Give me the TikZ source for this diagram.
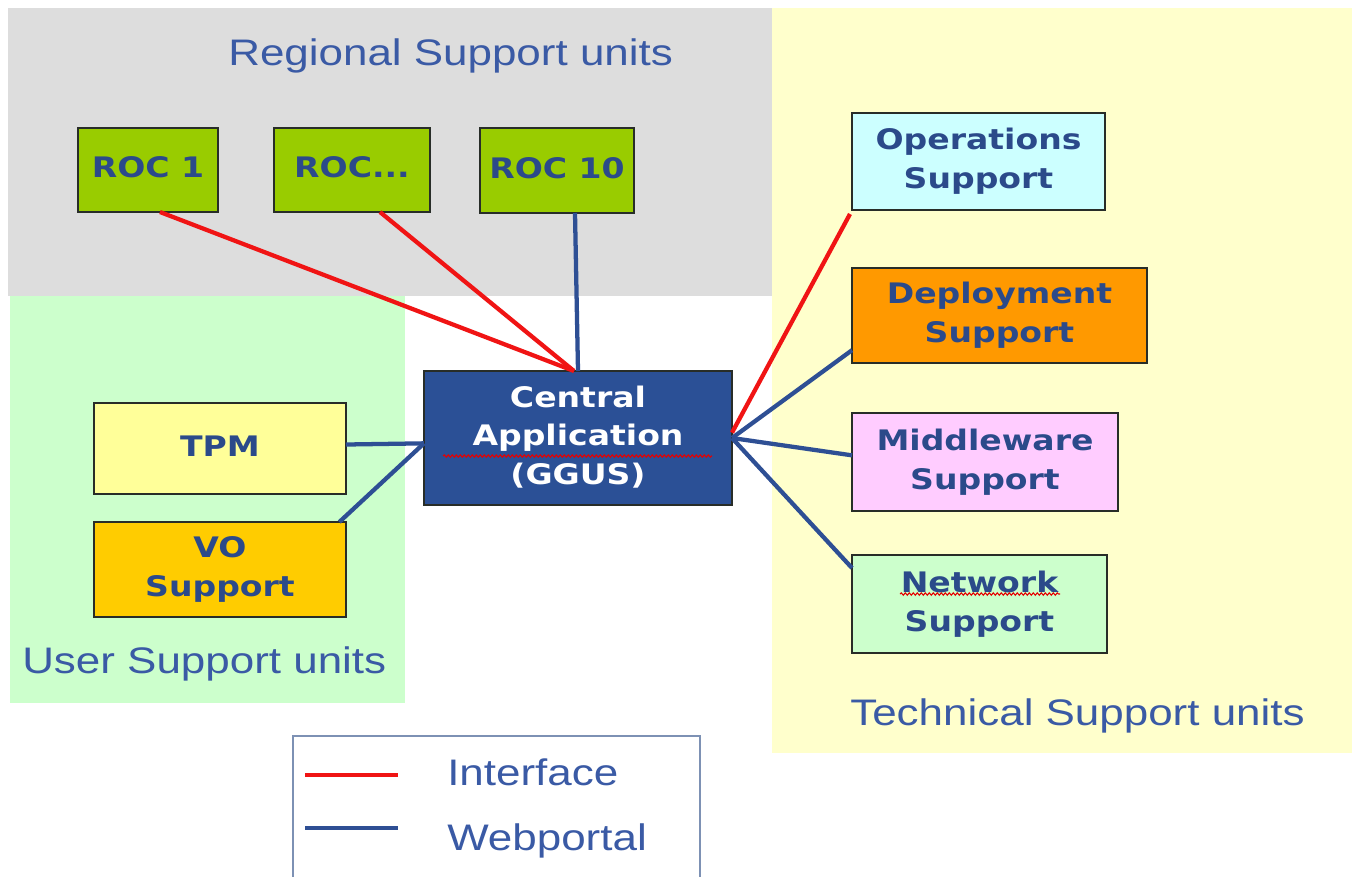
\documentclass[tikz,border=0pt]{standalone}
\usepackage{fontspec}
\usepackage{graphicx}
\newfontfamily\boxfont{DejaVu Sans}
\newfontfamily\ttlfont{Liberation Sans}
\usetikzlibrary{decorations.pathmorphing}
\definecolor{bggray}{RGB}{221,221,221}
\definecolor{bggreen}{RGB}{204,255,204}
\definecolor{bgyellow}{RGB}{255,255,204}
\definecolor{rocgreen}{RGB}{153,204,0}
\definecolor{centralblue}{RGB}{43,80,150}
\definecolor{tpmyellow}{RGB}{255,255,153}
\definecolor{vogold}{RGB}{255,204,0}
\definecolor{opscyan}{RGB}{204,255,255}
\definecolor{deporange}{RGB}{255,153,0}
\definecolor{midpink}{RGB}{255,204,255}
\definecolor{netgreen}{RGB}{204,255,204}
\definecolor{txtblue}{RGB}{43,74,138}
\definecolor{ttlblue}{RGB}{58,90,165}
\definecolor{ifred}{RGB}{240,20,20}
\definecolor{wpblue}{RGB}{46,79,148}
\definecolor{legframe}{RGB}{125,145,180}
\definecolor{boxedge}{RGB}{40,45,40}
\newcommand\bx[1]{\scalebox{1.17}[1]{\begin{tabular}{@{}c@{}}#1\end{tabular}}}
\newcommand\ttl[1]{\scalebox{1.19}[1]{#1}}
\tikzset{
  unitbox/.style={draw=boxedge, line width=1.5pt, inner sep=0pt, outer sep=0pt,
    text=txtblue, font=\boxfont\bfseries\fontsize{21.2}{29}\selectfont},
  ttltext/.style={inner sep=0pt, text=ttlblue, font=\ttlfont\fontsize{27.7}{33}\selectfont},
  iface/.style={draw=ifred, line width=3.2pt},
  wportal/.style={draw=wpblue, line width=3.2pt},
  squiggle/.style={draw=red!90!black, line width=0.8pt,
    decorate, decoration={snake, amplitude=0.9pt, segment length=3pt}}
}
\begin{document}
\begin{tikzpicture}[x=0.75pt,y=-0.75pt]
\clip (0,0) rectangle (1352,876);
\fill[white] (0,0) rectangle (1352,876);
% region backgrounds
\fill[bggray] (8,8) rectangle (772,296);
\fill[bggreen] (10,296) rectangle (405,703);
\fill[bgyellow] (772,8) rectangle (1352,753);
% region titles
\node[ttltext, anchor=base west] (tregional) at (228,65) {\ttl{Regional Support units}};
\node[ttltext, anchor=base west] (tuser) at (22,673) {\ttl{User Support units}};
\node[ttltext, anchor=base west] (ttech) at (850,725) {\ttl{Technical Support units}};
% boxes
\node[unitbox, fill=rocgreen, minimum width=105pt, minimum height=63pt] (roc1) at (148,170) {\bx{ROC 1}};
\node[unitbox, fill=rocgreen, minimum width=117pt, minimum height=63pt] (roc2) at (352,170) {\bx{ROC...}};
\node[unitbox, fill=rocgreen, minimum width=115.5pt, minimum height=63.75pt] (roc3) at (557,170.5) {\bx{ROC 10}};
\node[unitbox, fill=centralblue, text=white, minimum width=231pt, minimum height=100.5pt] (central) at (578,438) {\bx{Central\\Application\\(GGUS)}};
\node[unitbox, fill=tpmyellow, minimum width=189pt, minimum height=68.25pt] (tpm) at (220,448.5) {\bx{TPM}};
\node[unitbox, fill=vogold, minimum width=189pt, minimum height=71.25pt] (vo) at (220,569.5) {\bx{VO\\Support}};
\node[unitbox, fill=opscyan, minimum width=189.75pt, minimum height=72.75pt] (ops) at (978.5,161.5) {\bx{Operations\\Support}};
\node[unitbox, fill=deporange, minimum width=221.25pt, minimum height=71.25pt] (dep) at (999.5,315.5) {\bx{Deployment\\Support}};
\node[unitbox, fill=midpink, minimum width=199.5pt, minimum height=73.5pt] (mid) at (985,462) {\bx{Middleware\\Support}};
\node[unitbox, fill=netgreen, minimum width=191.25pt, minimum height=73.5pt] (net) at (979.5,604) {\bx{Network\\Support}};
% spell-check marks
\draw[squiggle] (443,456) -- (712,456);
\draw[squiggle] (900,594) -- (1060,594);
% connectors
\draw[iface] ([xshift=9pt]roc1.south) -- ([xshift=-3pt]central.north);
\draw[iface] ([xshift=21pt]roc2.south) -- ([xshift=-3pt]central.north);
\draw[wportal] ([xshift=13.5pt]roc3.south) -- (central.north);
\draw[wportal] ([yshift=3pt]tpm.east) -- ([yshift=-4pt]central.west);
\draw[wportal] ([xshift=-5pt]vo.north east) -- ([yshift=-4pt]central.west);
\draw[iface] ([yshift=4pt]central.east) -- ([xshift=-1.5pt,yshift=-3pt]ops.south west);
\draw[wportal] (central.east) -- ([yshift=-26pt]dep.west);
\draw[wportal] (central.east) -- ([yshift=5pt]mid.west);
\draw[wportal] (central.east) -- ([yshift=27pt]net.west);
% legend
\draw[legframe, line width=1pt] (293,880) -- (293,736) -- (700,736) -- (700,880);
\coordinate (ra) at (305,775);
\coordinate (rb) at (398,775);
\coordinate (ba) at (305,828);
\coordinate (bb) at (398,828);
\draw[iface, line width=3.6pt] (ra) -- (rb);
\draw[wportal, line width=3.6pt] (ba) -- (bb);
\node[ttltext, anchor=base west] (linterface) at (447,785) {\ttl{Interface}};
\node[ttltext, anchor=base west] (lwebportal) at (447,850) {\ttl{Webportal}};
\end{tikzpicture}
\end{document}
